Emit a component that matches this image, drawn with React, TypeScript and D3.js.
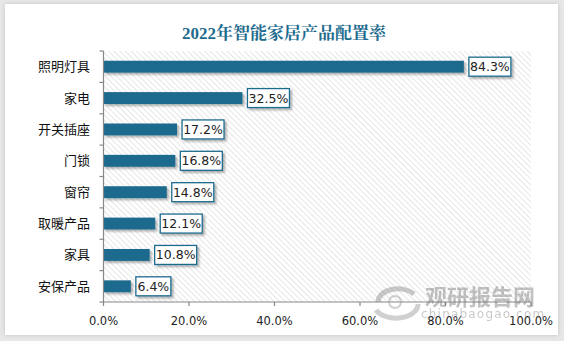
import React from "react";
import * as d3 from "d3";

const categories = ["照明灯具", "家电", "开关插座", "门锁", "窗帘", "取暖产品", "家具", "安保产品"];
const values = [84.3, 32.5, 17.2, 16.8, 14.8, 12.1, 10.8, 6.4];
const xTicks = [0, 20, 40, 60, 80, 100];
const title = "2022年智能家居产品配置率";

const W = 564, H = 341;
const M = { left: 103.5, right: 531, top: 51, bottom: 302 };
const BAR = "#1d6b8e";

export default function App() {
  const x = d3.scaleLinear().domain([0, 100]).range([M.left, M.right]);
  const y = d3.scaleBand<string>().domain(categories).range([M.top, M.bottom]).paddingInner(0.62).paddingOuter(0.31);
  const band = d3.scaleBand<string>().domain(categories).range([M.top, M.bottom]);
  const fmt = (v: number) => d3.format(".1f")(v) + "%";
  const cjk = "'Noto Sans CJK SC', 'Microsoft YaHei', sans-serif";
  const num = "'DejaVu Sans', 'Liberation Sans', sans-serif";
  return (
    <svg width={W} height={H} style={{ position: "absolute", left: 0, top: 0 }}>
      <defs>
        <pattern id="hatch" width="4" height="4" patternUnits="userSpaceOnUse" patternTransform="rotate(-45)">
          <rect width="4" height="4" fill="#ffffff" />
          <line x1="0" y1="0" x2="0" y2="4" stroke="#d6d6d6" strokeWidth="1.2" />
        </pattern>
        <filter id="shadow" x="-10%" y="-30%" width="130%" height="180%">
          <feDropShadow dx="2" dy="2" stdDeviation="1.2" floodColor="#000" floodOpacity="0.3" />
        </filter>
        <filter id="panelShadow" x="-5%" y="-5%" width="110%" height="110%">
          <feDropShadow dx="0" dy="0" stdDeviation="2" floodColor="#000" floodOpacity="0.15" />
        </filter>
      </defs>
      <rect width={W} height={H} fill="#e7e7e7" />
      <rect x={5} y={4} width={553} height={331} fill="#ffffff" filter="url(#panelShadow)" />
      <text x={284} y={39} textAnchor="middle" fontSize={17} fontWeight="bold" fill="#1d6b8e"
        fontFamily="'Liberation Serif', 'Noto Serif CJK SC', 'Noto Sans CJK SC', serif">{title}</text>
      <rect x={M.left} y={M.top} width={M.right - M.left} height={M.bottom - M.top} fill="url(#hatch)" />

      {categories.map((c, i) => (
        <g key={c}>
          <rect x={x(0)} y={y(c)!} width={x(values[i]) - x(0)} height={y.bandwidth()} fill={BAR} filter="url(#shadow)" />
        </g>
      ))}
      {categories.map((c, i) => {
        const bx = x(values[i]) + 5;
        const cy = y(c)! + y.bandwidth() / 2;
        const label = fmt(values[i]);
        const w = label.length * 7.0 + 7;
        return (
          <g key={c + "l"}>
            <rect x={bx} y={cy - 9.5} width={w} height={19} fill="#fff" stroke={BAR} strokeWidth={1.3} filter="url(#shadow)" />
            <text x={bx + w / 2} y={cy + 4.5} textAnchor="middle" fontSize={12.5} fill="#222" fontFamily={num}>{label}</text>
          </g>
        );
      })}

      <line x1={M.left} x2={M.left} y1={M.top} y2={M.bottom} stroke="#888" strokeWidth={1.2} />
      {categories.concat(["_end"]).map((c, i) => {
        const yy = i < categories.length ? band(c)! : M.bottom;
        return <line key={"t" + i} x1={M.left - 4} x2={M.left} y1={yy} y2={yy} stroke="#888" strokeWidth={1.2} />;
      })}
      {categories.map((c) => (
        <text key={c + "c"} x={90} y={band(c)! + band.bandwidth() / 2 + 4.5} textAnchor="end" fontSize={13} fill="#111" fontFamily={cjk}>{c}</text>
      ))}

      <line x1={M.left} x2={M.right} y1={M.bottom} y2={M.bottom} stroke="#888" strokeWidth={1.2} />
      {xTicks.map((t) => (
        <g key={"x" + t}>
          <line x1={x(t)} x2={x(t)} y1={M.bottom} y2={M.bottom + 4} stroke="#888" strokeWidth={1.2} />
          <text x={x(t)} y={325} textAnchor="middle" fontSize={11.5} fill="#222" fontFamily={num}>{t.toFixed(1) + "%"}</text>
        </g>
      ))}

      <g opacity={0.45}>
        <path d="M 378 302 A 20 13 0 0 1 414 294" fill="none" stroke="#888" strokeWidth={5} />
        <path d="M 376 310 A 22 14 0 0 0 418 304" fill="none" stroke="#999" strokeWidth={5} />
        <circle cx={395} cy={302} r={6} fill="none" stroke="#999" strokeWidth={2} />
        <text x={425} y={305} fontSize={22} fontWeight="bold" fill="#777" fontFamily={cjk}>观研报告网</text>
        <text x={421} y={318} fontSize={12} fill="#888" fontFamily={num} letterSpacing={1.2}>chinabaogao.com</text>
      </g>
    </svg>
  );
}
